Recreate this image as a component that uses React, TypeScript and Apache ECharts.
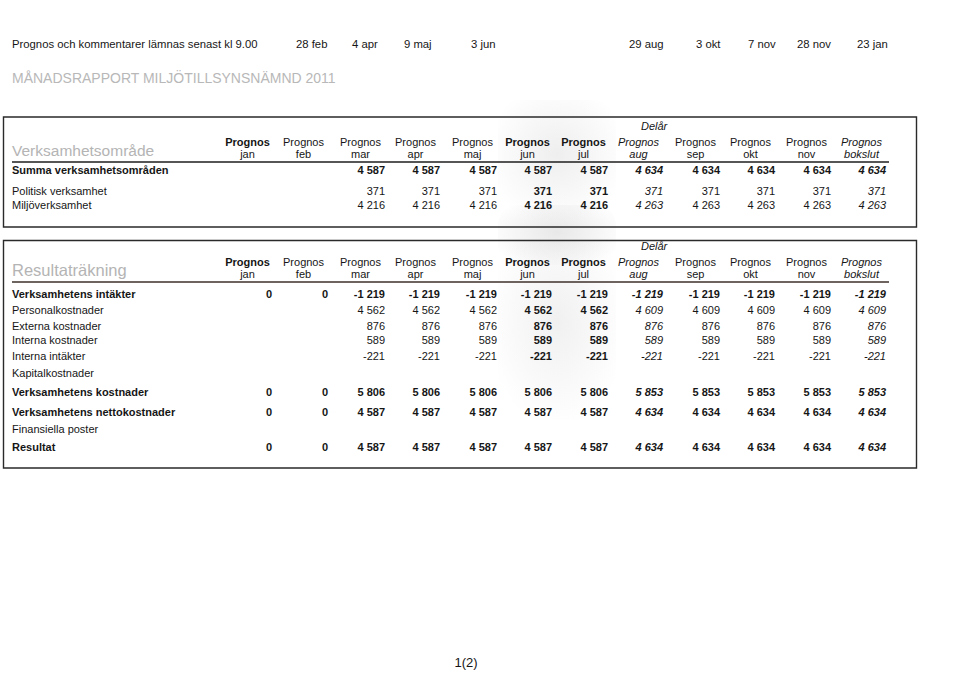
import React, { useEffect, useRef } from "react";
import * as echarts from "echarts";

// ---------- data ----------
const headerNote = "Prognos och kommentarer lämnas senast kl 9.00";
const deadlines = ["28 feb", "4 apr", "9 maj", "3 jun", "29 aug", "3 okt", "7 nov", "28 nov", "23 jan"];
const reportTitle = "MÅNADSRAPPORT MILJÖTILLSYNSNÄMND 2011";
const months = ["jan", "feb", "mar", "apr", "maj", "jun", "jul", "aug", "sep", "okt", "nov", "bokslut"];
const columnWord = "Prognos";
const delarLabel = "Delår";
const pageLabel = "1(2)";

const table1Title = "Verksamhetsområde";
const t1Labels = ["Summa verksamhetsområden", "Politisk verksamhet", "Miljöverksamhet"];
const t1Summa = [null, null, 4587, 4587, 4587, 4587, 4587, 4634, 4634, 4634, 4634, 4634];
const t1Politisk = [null, null, 371, 371, 371, 371, 371, 371, 371, 371, 371, 371];
const t1Miljo = [null, null, 4216, 4216, 4216, 4216, 4216, 4263, 4263, 4263, 4263, 4263];
const t1Bold = [true, false, false];

const table2Title = "Resultaträkning";
const t2Labels = [
  "Verksamhetens intäkter",
  "Personalkostnader",
  "Externa kostnader",
  "Interna kostnader",
  "Interna intäkter",
  "Kapitalkostnader",
  "Verksamhetens kostnader",
  "Verksamhetens nettokostnader",
  "Finansiella poster",
  "Resultat",
];
const t2Intakter = [0, 0, -1219, -1219, -1219, -1219, -1219, -1219, -1219, -1219, -1219, -1219];
const t2Personal = [null, null, 4562, 4562, 4562, 4562, 4562, 4609, 4609, 4609, 4609, 4609];
const t2Externa = [null, null, 876, 876, 876, 876, 876, 876, 876, 876, 876, 876];
const t2InternaK = [null, null, 589, 589, 589, 589, 589, 589, 589, 589, 589, 589];
const t2InternaI = [null, null, -221, -221, -221, -221, -221, -221, -221, -221, -221, -221];
const t2Kapital = [null, null, null, null, null, null, null, null, null, null, null, null];
const t2Kostnader = [0, 0, 5806, 5806, 5806, 5806, 5806, 5853, 5853, 5853, 5853, 5853];
const t2Netto = [0, 0, 4587, 4587, 4587, 4587, 4587, 4634, 4634, 4634, 4634, 4634];
const t2Finans = [null, null, null, null, null, null, null, null, null, null, null, null];
const t2Resultat = [0, 0, 4587, 4587, 4587, 4587, 4587, 4634, 4634, 4634, 4634, 4634];
const t2Bold = [true, false, false, false, false, false, true, true, false, true];

// ---------- layout (positions / styles) ----------
const FONT = '"Liberation Sans", Arial, Helvetica, sans-serif';
const deadlineX = [296, 352, 404, 471, 629, 696, 748, 797, 857];
const colRight = [272, 328, 385, 440, 497, 552, 608, 663, 720, 775, 831, 886];
const boldHeaderCols = [0, 5, 6];
const boldValueCols = [5, 6];
const italicCols = [7, 11];
const t1RowY = [170, 191, 205];
const t2RowY = [294, 310, 326, 340, 356, 373, 392, 412, 429, 447];
const INK = "#161616";

function fmt(v: number | null): string {
  if (v == null) return "";
  const s = Math.abs(v).toString().replace(/\B(?=(\d{3})+(?!\d))/g, " ");
  return (v < 0 ? "-" : "") + s;
}

function font(size: number, bold = false, italic = false) {
  return `${italic ? "italic " : ""}${bold ? "bold " : ""}${size}px ${FONT}`;
}

function txt(text: string, x: number, y: number, f: string, align = "left", fill = INK): any {
  return {
    type: "text",
    x,
    y,
    silent: true,
    style: {
      text,
      font: f,
      fill,
      align,
      verticalAlign: "middle",
      textAlign: align,
      textVerticalAlign: "middle",
    },
  };
}

function buildTable(
  title: string,
  titleSize: number,
  labels: string[],
  rows: (number | null)[][],
  bold: boolean[],
  rowY: number[],
  box: { top: number; bottom: number },
  headY: { delar: number; p: number; m: number; line: number; title: number },
  lineColor: string
) {
  const els: any[] = [];
  els.push({
    type: "rect",
    shape: { x: 3.5, y: box.top, width: 913, height: box.bottom - box.top },
    style: { fill: "none", stroke: "#2a2a2a", lineWidth: 1.4 },
    silent: true,
  });
  els.push(txt(title, 12, headY.title, font(titleSize), "left", "#b4b4b4"));
  els.push(txt(delarLabel, 641, headY.delar, font(11, false, true)));
  months.forEach((m, i) => {
    const cx = colRight[i] - 24.5;
    const it = italicCols.includes(i);
    els.push(txt(columnWord, cx, headY.p, font(11, boldHeaderCols.includes(i), it), "center"));
    els.push(txt(m, cx, headY.m, font(11, false, it), "center"));
  });
  els.push({
    type: "line",
    shape: { x1: 12, y1: headY.line, x2: 889, y2: headY.line },
    style: { stroke: lineColor, lineWidth: 1.6 },
    silent: true,
  });
  labels.forEach((lab, r) => {
    els.push(txt(lab, 12, rowY[r], font(11, bold[r])));
    rows[r].forEach((v, c) => {
      if (v == null) return;
      els.push(
        txt(
          fmt(v),
          colRight[c],
          rowY[r],
          font(11, bold[r] || boldValueCols.includes(c), italicCols.includes(c)),
          "right"
        )
      );
    });
  });
  return els;
}

export default function App() {
  const ref = useRef<HTMLDivElement>(null);
  useEffect(() => {
    if (!ref.current) return;
    const chart = echarts.init(ref.current, undefined, { renderer: "svg" });
    const graphics: any[] = [];

    // faint scan smudge behind jun/jul columns
    const smudge = (y: number, h: number, peak: number) => ({
      type: "rect",
      shape: { x: 498, y, width: 118, height: h, r: 20 },
      style: {
        fill: {
          type: "radial",
          x: 0.5, y: 0.45, r: 0.6,
          colorStops: [
            { offset: 0, color: `rgba(150,150,150,${peak})` },
            { offset: 1, color: "rgba(150,150,150,0)" },
          ],
        },
      },
      silent: true,
    });
    graphics.push(smudge(100, 120, 0.16));
    graphics.push(smudge(205, 60, 0.22));
    graphics.push(smudge(240, 180, 0.14));

    graphics.push(txt(headerNote, 12, 44, font(11.3)));
    deadlines.forEach((d, i) => graphics.push(txt(d, deadlineX[i], 44, font(11.3))));
    graphics.push(txt(reportTitle, 12, 78, font(14), "left", "#b8b8b8"));

    graphics.push(
      ...buildTable(
        table1Title,
        15.5,
        t1Labels,
        [t1Summa, t1Politisk, t1Miljo],
        t1Bold,
        t1RowY,
        { top: 117, bottom: 227 },
        { delar: 126, p: 142, m: 154, line: 162, title: 150 },
        "#1e1e1e"
      )
    );
    graphics.push(
      ...buildTable(
        table2Title,
        16.5,
        t2Labels,
        [t2Intakter, t2Personal, t2Externa, t2InternaK, t2InternaI, t2Kapital, t2Kostnader, t2Netto, t2Finans, t2Resultat],
        t2Bold,
        t2RowY,
        { top: 240.5, bottom: 468 },
        { delar: 246, p: 262, m: 274, line: 282, title: 270 },
        "#3d302a"
      )
    );
    graphics.push(txt(pageLabel, 466, 662, font(13), "center"));

    chart.setOption({
      animation: false,
      backgroundColor: "#ffffff",
      graphic: { elements: graphics },
    });
    return () => chart.dispose();
  }, []);
  return (
    <div
      ref={ref}
      style={{ position: "fixed", left: 0, top: 0, width: 960, height: 678, background: "#fff" }}
    />
  );
}
